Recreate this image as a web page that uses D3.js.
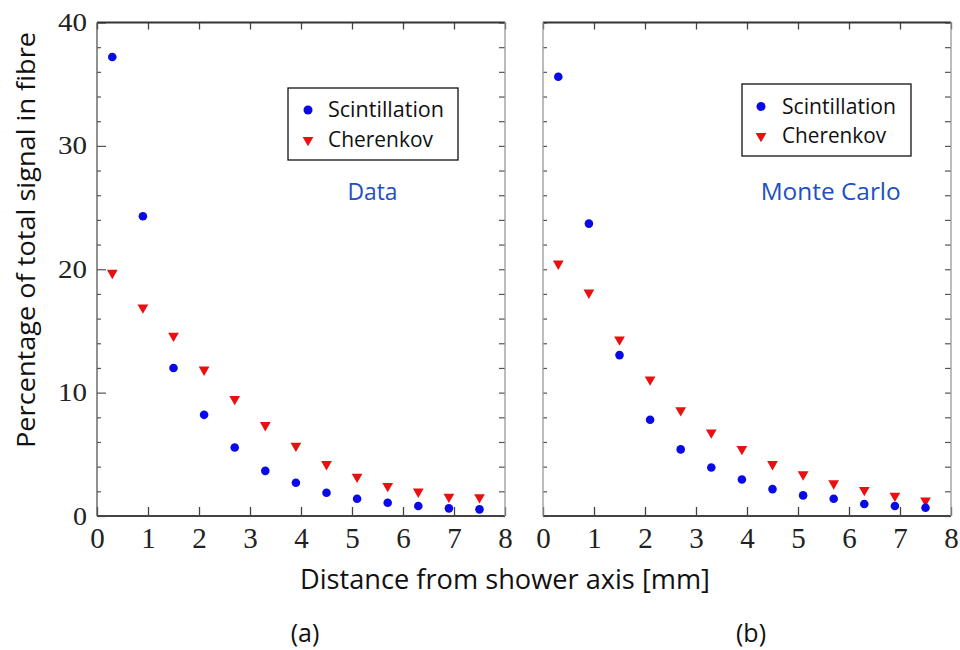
<!DOCTYPE html>
<html>
<head>
<meta charset="utf-8">
<script src="https://cdn.jsdelivr.net/npm/d3@7"></script>
<style>
  html, body { margin: 0; padding: 0; background: #fff; }
  svg { display: block; }
</style>
</head>
<body>
<svg id="chart" width="960" height="650"></svg>
<script>
// ---- data ----
const distances = [0.3, 0.9, 1.5, 2.1, 2.7, 3.3, 3.9, 4.5, 5.1, 5.7, 6.3, 6.9, 7.5];
const dataScint = [37.2, 24.3, 12.0, 8.2, 5.55, 3.66, 2.7, 1.88, 1.4, 1.07, 0.81, 0.62, 0.54];
const dataCher  = [19.7, 16.9, 14.6, 11.86, 9.48, 7.36, 5.69, 4.2, 3.18, 2.43, 1.97, 1.56, 1.51];
const mcScint   = [35.6, 23.7, 13.04, 7.8, 5.4, 3.93, 2.96, 2.18, 1.67, 1.4, 0.97, 0.81, 0.67];
const mcCher    = [20.45, 18.1, 14.3, 11.05, 8.57, 6.76, 5.42, 4.2, 3.37, 2.64, 2.1, 1.64, 1.24];
const xTicks = [0, 1, 2, 3, 4, 5, 6, 7, 8];
const yTicks = [0, 10, 20, 30, 40];
const seriesNames = ["Scintillation", "Cherenkov"];
const panelTitles = ["Data", "Monte Carlo"];
const panelLabels = ["(a)", "(b)"];
const xTitle = "Distance from shower axis [mm]";
const yTitle = "Percentage of total signal in fibre";

// ---- layout ----
const svg = d3.select("#chart");
const BLUE = "#0a0ae6", RED = "#e81010", TXTBLUE = "#2150c0";
const yTop = 22.5, yBottom = 516;
const y = d3.scaleLinear().domain([0, 40]).range([yBottom, yTop]);
const panels = [
  {x0: 97,  x1: 505, scint: dataScint, cher: dataCher, title: panelTitles[0], label: panelLabels[0],
   legend: {x: 288, y: 88, w: 170, h: 72, mx: 308, tx: 328, r1: 110, r2: 140, tl: [116, 105]},
   titlePos: [372.5, 200], titleLen: 50, labelX: 305, yLabels: true},
  {x0: 543, x1: 951, scint: mcScint, cher: mcCher, title: panelTitles[1], label: panelLabels[1],
   legend: {x: 742, y: 84, w: 169, h: 72, mx: 761, tx: 782, r1: 106.5, r2: 136, tl: [114, 104]},
   titlePos: [830.7, 200], titleLen: 140, labelX: 751, yLabels: false}
];
const minorY = d3.range(0, 41, 2);
const triangle = d3.symbol().type(d3.symbolTriangle).size(50);

panels.forEach(p => {
  const x = d3.scaleLinear().domain([0, 8]).range([p.x0, p.x1]);
  const g = svg.append("g");

  // bottom axis (ticks inward)
  const gb = g.append("g").attr("transform", `translate(0,${yBottom})`)
    .call(d3.axisBottom(x).tickValues(xTicks).tickSize(-9).tickPadding(11).tickFormat(d3.format("d")));
  gb.select(".domain").remove();
  gb.selectAll("line").attr("stroke", "#444").attr("stroke-width", 1.3);
  gb.selectAll("text").attr("font-family", "'Liberation Serif', 'Times New Roman', serif")
    .attr("font-size", 29).attr("fill", "#222");

  // top axis (ticks inward)
  const gt = g.append("g").attr("transform", `translate(0,${yTop})`)
    .call(d3.axisTop(x).tickValues(xTicks).tickSize(-7).tickFormat(""));
  gt.select(".domain").remove();
  gt.selectAll("line").attr("stroke", "#444").attr("stroke-width", 1.3);

  // left axis
  const gl = g.append("g").attr("transform", `translate(${p.x0},0)`)
    .call(d3.axisLeft(y).tickValues(minorY).tickSize(-4).tickPadding(10)
      .tickFormat(d => (p.yLabels && d % 10 === 0) ? d : ""));
  gl.select(".domain").remove();
  gl.selectAll(".tick line").attr("stroke", "#555").attr("stroke-width", 1.2)
    .attr("x2", d => (p.yLabels && d % 10 === 0) ? 9 : 4);
  gl.selectAll("text").attr("font-family", "'Liberation Serif', 'Times New Roman', serif")
    .attr("font-size", 25).attr("fill", "#222")
    .attr("textLength", d => d === 0 ? 14 : 29).attr("lengthAdjust", "spacingAndGlyphs");

  // right axis
  const gr = g.append("g").attr("transform", `translate(${p.x1},0)`)
    .call(d3.axisRight(y).tickValues(minorY).tickSize(-6).tickFormat(""));
  gr.select(".domain").remove();
  gr.selectAll("line").attr("stroke", "#555").attr("stroke-width", 1.2);

  // frame
  g.append("line").attr("x1", p.x0).attr("x2", p.x1).attr("y1", yTop).attr("y2", yTop)
    .attr("stroke", "#333").attr("stroke-width", 1.8);
  g.append("line").attr("x1", p.x0).attr("x2", p.x1).attr("y1", yBottom).attr("y2", yBottom)
    .attr("stroke", "#444").attr("stroke-width", 1.8);
  g.append("line").attr("x1", p.x0).attr("x2", p.x0).attr("y1", yTop).attr("y2", yBottom)
    .attr("stroke", p.yLabels ? "#555" : "#999").attr("stroke-width", 1.3);
  g.append("line").attr("x1", p.x1).attr("x2", p.x1).attr("y1", yTop).attr("y2", yBottom)
    .attr("stroke", "#999").attr("stroke-width", 1.3);

  // points
  g.selectAll(".cher").data(distances.map((d, i) => [d, p.cher[i]])).enter()
    .append("path").attr("d", triangle)
    .attr("transform", d => `translate(${x(d[0])},${y(d[1])}) rotate(180)`)
    .attr("fill", RED);
  g.selectAll(".scint").data(distances.map((d, i) => [d, p.scint[i]])).enter()
    .append("circle").attr("cx", d => x(d[0])).attr("cy", d => y(d[1])).attr("r", 4.3)
    .attr("fill", BLUE);

  // legend
  const L = p.legend;
  g.append("rect").attr("x", L.x).attr("y", L.y).attr("width", L.w).attr("height", L.h)
    .attr("fill", "#fff").attr("stroke", "#111").attr("stroke-width", 1.3);
  g.append("circle").attr("cx", L.mx).attr("cy", L.r1).attr("r", 4.5).attr("fill", BLUE);
  g.append("path").attr("d", triangle).attr("transform", `translate(${L.mx},${L.r2}) rotate(180)`).attr("fill", RED);
  [L.r1, L.r2].forEach((ry, i) => {
    g.append("text").attr("x", L.tx).attr("y", ry + 7).text(seriesNames[i])
      .attr("font-family", "'Open Sans', sans-serif").attr("font-size", 21).attr("fill", "#111")
      .attr("textLength", L.tl[i]).attr("lengthAdjust", "spacingAndGlyphs");
  });

  // panel title
  g.append("text").attr("x", p.titlePos[0]).attr("y", p.titlePos[1]).attr("text-anchor", "middle")
    .text(p.title).attr("font-family", "'Open Sans', sans-serif").attr("font-size", 24)
    .attr("fill", TXTBLUE).attr("textLength", p.titleLen).attr("lengthAdjust", "spacingAndGlyphs");

  // panel label
  svg.append("text").attr("x", p.labelX).attr("y", 642).attr("text-anchor", "middle")
    .text(p.label).attr("font-family", "'Open Sans', sans-serif").attr("font-size", 25)
    .attr("fill", "#111");
});

// axis titles
svg.append("text").attr("x", 300).attr("y", 589).text(xTitle)
  .attr("font-family", "'Open Sans', sans-serif").attr("font-size", 27).attr("fill", "#111")
  .attr("textLength", 410).attr("lengthAdjust", "spacingAndGlyphs");
svg.append("text").attr("transform", "translate(35,240) rotate(-90)").attr("text-anchor", "middle")
  .text(yTitle).attr("font-family", "'Open Sans', sans-serif").attr("font-size", 26).attr("fill", "#111")
  .attr("textLength", 416).attr("lengthAdjust", "spacingAndGlyphs");
</script>
</body>
</html>
